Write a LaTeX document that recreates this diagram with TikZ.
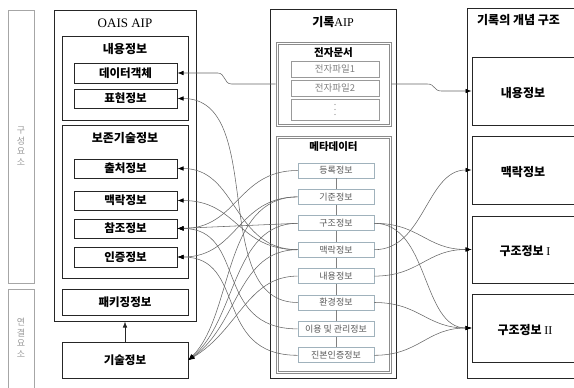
\documentclass[tikz,border=0pt]{standalone}
\usepackage{fontspec}
\setmainfont{Liberation Serif}
\newfontfamily\kr{Noto Sans CJK KR}
\usetikzlibrary{arrows.meta,calc}
\definecolor{mb}{RGB}{160,178,188}
\begin{document}
\begin{tikzpicture}[x=1pt,y=-1pt,
  bx/.style={draw=black!85, line width=1pt, inner sep=0pt},
  obx/.style={bx, font=\kr\bfseries\fontsize{11.5}{13}\selectfont},
  ttl/.style={font=\kr\bfseries\fontsize{12}{14}\selectfont, inner sep=0pt},
  sttl/.style={font=\kr\bfseries\fontsize{10.5}{12}\selectfont, inner sep=0pt},
  gbx/.style={draw=black!45, line width=0.8pt, inner sep=0pt},
  fbx/.style={draw=black!40, line width=0.7pt, font=\kr\fontsize{9.5}{11}\selectfont, text=black!50, inner sep=0pt, minimum width=88pt},
  mbx/.style={draw=mb, fill=white, line width=0.8pt, font=\kr\fontsize{9}{11}\selectfont, text=black!65, minimum width=76pt, minimum height=15pt, inner sep=0pt},
  vline/.style={draw=black!50, line width=0.6pt},
  con/.style={draw=black!60, line width=0.55pt},
  arr/.style={con, -{Latex[length=6pt,width=4.5pt,color=black]}},
  lab/.style={draw=black!35, line width=1pt, inner sep=0pt},
  labt/.style={text=black!40, font=\kr\fontsize{9}{10.5}\selectfont, align=center, inner sep=0pt},
]
\useasboundingbox (0,0) rectangle (574,388);

% left labels
\node[lab, minimum width=26pt, minimum height=273pt] (lab1) at (21,146.5) {};
\node[labt] (lab1t) at (21,146) {구\\성\\요\\소};
\node[lab, minimum width=26pt, minimum height=111pt] (lab2) at (21,344.5) {};
\node[labt] (lab2t) at (21,338) {연\\결\\요\\소};

% OAIS AIP
\node[bx, minimum width=142pt, minimum height=311pt] (oais) at (125,165.5) {};
\node[font=\fontsize{13}{15}\selectfont, inner sep=0pt] (oaist) at (125,23) {OAIS AIP};
\node[bx, minimum width=126pt, minimum height=84pt] (c1) at (125,78) {};
\node[ttl] (c1t) at (125,49) {내용정보};
\node[obx, minimum width=103pt, minimum height=20pt] (do) at (125.5,73) {데이터객체};
\node[obx, minimum width=103pt, minimum height=19pt] (pr) at (125.5,98.5) {표현정보};
\node[bx, minimum width=126pt, minimum height=153pt] (c2) at (125,201.5) {};
\node[ttl] (c2t) at (125,138) {보존기술정보};
\node[obx, minimum width=103pt, minimum height=19pt] (ch) at (125.5,168.5) {출처정보};
\node[obx, minimum width=103pt, minimum height=19pt] (mk) at (125.5,200.5) {맥락정보};
\node[obx, minimum width=103pt, minimum height=19pt] (cj) at (125.5,228.5) {참조정보};
\node[obx, minimum width=103pt, minimum height=20pt] (ij) at (125.5,257) {인증정보};
\node[obx, minimum width=126pt, minimum height=26pt] (pk) at (125,302) {패키징정보};
\node[obx, minimum width=126pt, minimum height=36pt] (gi) at (125,360) {기술정보};
\draw[black!85, line width=0.6pt, -{Latex[length=6pt,width=4.5pt]}] (gi.north) -- (oais.south);

% 기록AIP
\node[bx, minimum width=126pt, minimum height=369pt] (raip) at (333,193.5) {};
\node[inner sep=0pt, font=\fontsize{12}{14}\selectfont] (raipt) at (333,22) {{\kr\bfseries 기록}AIP};
\node[gbx, minimum width=115pt, minimum height=84pt] (ed) at (333.5,84) {};
\node[gbx, minimum width=111pt, minimum height=80pt] (edin) at (333.5,84) {};
\node[sttl] (edt) at (333.5,53) {전자문서};
\node[fbx, minimum height=16pt] (f1) at (335,69) {전자파일1};
\node[fbx, minimum height=16pt] (f2) at (335,88) {전자파일2};
\node[fbx, minimum height=21pt] (f3) at (335,109.5) {};
\foreach \d in {-5,0,5}
  \fill[black!45] ($(f3.center)+(0,\d)$) circle (0.7pt);
\node[gbx, minimum width=115pt, minimum height=237pt] (md) at (333.5,254.5) {};
\node[gbx, minimum width=111pt, minimum height=233pt] (mdin) at (333.5,254.5) {};
\node[sttl] (mdt) at (333.5,147) {메타데이터};
\foreach \i/\y/\t in {1/170.5/등록정보, 2/196.9/기준정보, 3/223.3/구조정보, 4/249.7/맥락정보, 5/276.1/내용정보, 6/302.5/환경정보, 7/328.9/이용 및 관리정보, 8/355.3/진본인증정보}
  \node[mbx] (m\i) at (336,\y) {\t};
\foreach \i/\j in {1/2,2/3,3/4,4/5,5/6,6/7,7/8}
  \draw[vline] (m\i.south) -- (m\j.north);

% 기록의 개념 구조
\node[bx, minimum width=123pt, minimum height=370pt] (cs) at (528.5,193) {};
\node[ttl, anchor=west] (cst) at (477,20) {기록의 개념 구조};
\node[bx, minimum width=118pt, minimum height=68pt] (cn1) at (531,91) {};
\node[ttl] (cn1t) at (523,93) {내용정보};
\node[bx, minimum width=118pt, minimum height=68pt] (cn2) at (531,170) {};
\node[ttl] (cn2t) at (523,172) {맥락정보};
\node[bx, minimum width=118pt, minimum height=67pt] (cn3) at (531,249.5) {};
\node[ttl] (cn3t) at (525,251) {구조정보 {\rmfamily\mdseries I}};
\node[bx, minimum width=118pt, minimum height=68pt] (cn4) at (531,328) {};
\node[ttl] (cn4t) at (525,330) {구조정보 {\rmfamily\mdseries II}};

% connectors to the concept structure
\draw[arr] (ed.east) -- ++(36,0) .. controls +(8,0) and +(-8,0) .. ++(14,7) -- (cn1.west);
\draw[arr] (m4.east) .. controls +(50,0) and +(-45,0) .. (cn2.west);
\draw[arr] (m3.east) .. controls +(45,0) and +(-45,0) .. (cn3.west);
\draw[arr] (m5.east) .. controls +(45,0) and +(-45,0) .. (cn3.west);
\draw[arr] (m3.east) .. controls +(55,0) and +(-50,0) .. (cn4.west);
\draw[arr] (m6.east) .. controls +(45,0) and +(-45,0) .. (cn4.west);
\draw[arr] (m8.east) .. controls +(45,0) and +(-45,0) .. (cn4.west);

% connectors to OAIS AIP
\draw[arr] (ed.west) -- ++(-44,0) .. controls +(-8,0) and +(8,0) .. ++(-14,-11) -- (do.east);
\draw[arr] (m6.west) .. controls +(-90,0) and +(90,0) .. (pr.east);
\draw[arr] (m4.west) .. controls +(-65,0) and +(60,0) .. (ch.east);
\draw[arr] (m4.west) .. controls +(-60,0) and +(60,0) .. (mk.east);
\draw[arr] (m1.west) .. controls +(-60,0) and +(60,0) .. (cj.east);
\draw[arr] (m3.west) -- (cj.east);
\draw[arr] (m7.west) .. controls +(-85,0) and +(70,0) .. (cj.east);
\draw[arr] (m2.west) .. controls +(-60,0) and +(60,0) .. (ij.east);
\draw[arr] (m8.west) .. controls +(-85,0) and +(70,0) .. (ij.east);
\draw[arr] (m2.west) .. controls +(-75,0) and +(45,-45) .. (gi.east);
\draw[arr] (m3.west) .. controls +(-65,0) and +(48,-40) .. (gi.east);
\draw[arr] (m4.west) .. controls +(-60,0) and +(50,-35) .. (gi.east);
\draw[arr] (m5.west) .. controls +(-50,0) and +(50,-30) .. (gi.east);
\end{tikzpicture}
\end{document}
